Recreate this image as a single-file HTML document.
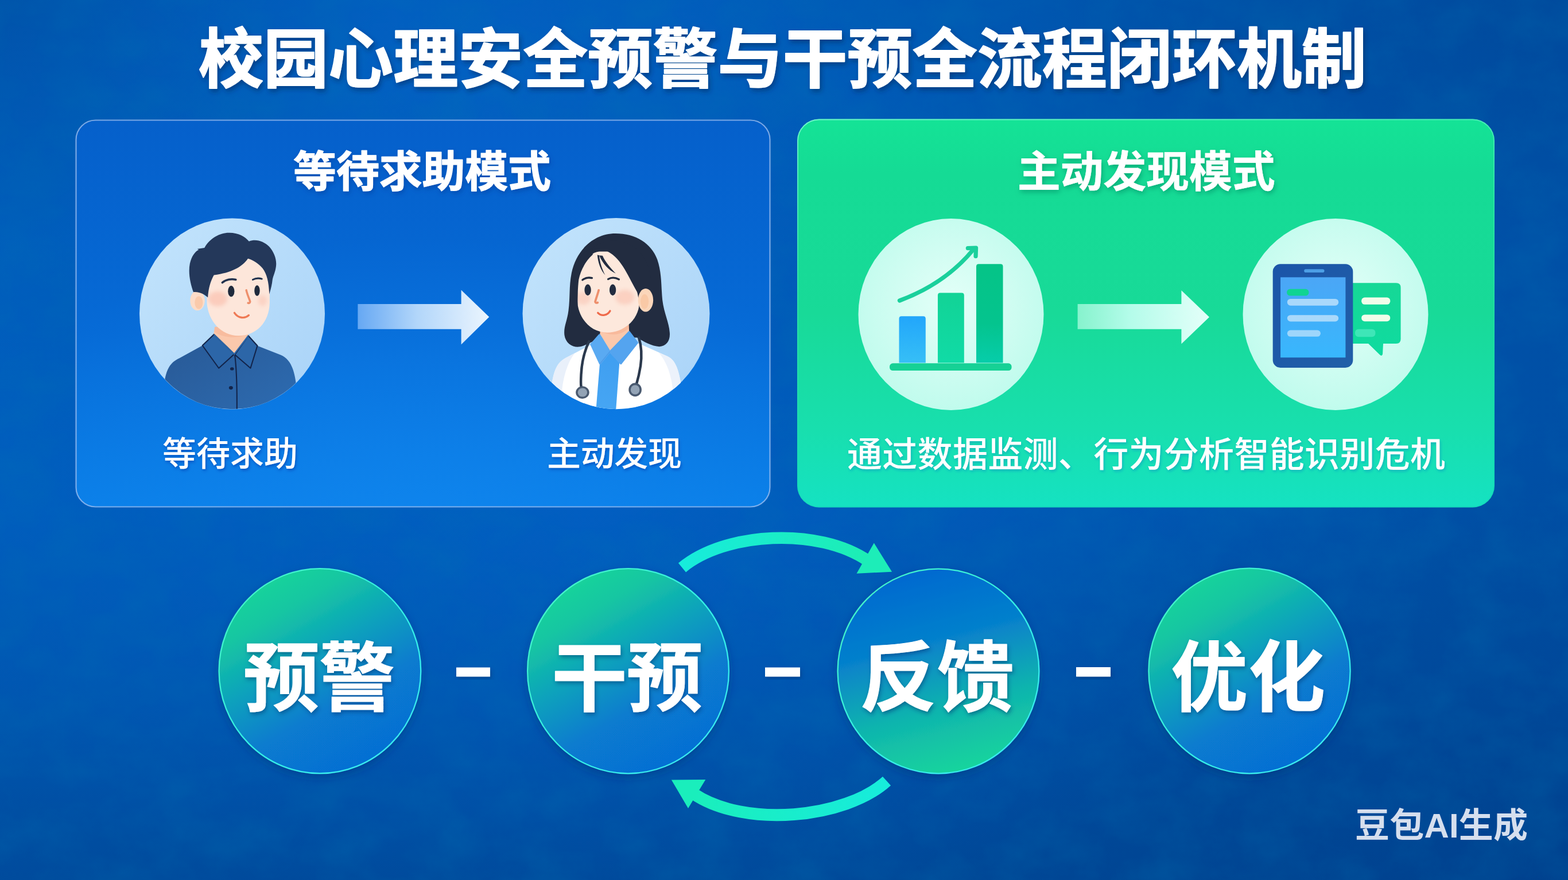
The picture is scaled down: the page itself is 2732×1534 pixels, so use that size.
<!DOCTYPE html>
<html lang="zh-CN">
<head>
<meta charset="utf-8">
<title>校园心理安全预警与干预全流程闭环机制</title>
<style>
html,body{margin:0;padding:0;background:#00499c;}
body{width:2732px;height:1534px;overflow:hidden;font-family:"Liberation Sans","Noto Sans CJK SC",sans-serif;}
#stage{position:relative;width:2732px;height:1534px;overflow:hidden;
background:
 radial-gradient(ellipse 1100px 520px at 30% 8%, rgba(6,102,205,.48) 0%, rgba(6,102,205,0) 100%),
 radial-gradient(ellipse 700px 420px at 0% 0%, rgba(0,68,145,.5) 0%, rgba(0,68,145,0) 100%),
 radial-gradient(ellipse 1200px 800px at 100% 100%, rgba(0,58,132,.3) 0%, rgba(0,58,132,0) 100%),
 radial-gradient(ellipse 900px 420px at 100% 0%, rgba(0,62,138,.35) 0%, rgba(0,62,138,0) 100%),
 radial-gradient(ellipse 1500px 700px at 38% 58%, rgba(4,100,208,.42) 0%, rgba(4,100,208,0) 100%),
 linear-gradient(180deg, rgba(0,58,128,0) 58%, rgba(0,58,128,.22) 80%, rgba(0,58,128,.5) 100%),
 linear-gradient(96deg, #005dbb 0%, #005ab6 40%, #0054ac 70%, #004fa5 100%);

}
#art{position:absolute;left:0;top:0;display:block}
#art text{font-family:"Liberation Sans","Noto Sans CJK SC",sans-serif;}
.tx{position:absolute;margin:0;padding:0;color:transparent;font-family:"Liberation Sans","Noto Sans CJK SC",sans-serif;font-weight:bold;white-space:nowrap;overflow:hidden;text-align:center;user-select:text}
</style>
</head>
<body>
<div id="stage">
<svg id="art" width="2732" height="1534" viewBox="0 0 2732 1534">
<defs>
<!-- text shadows -->
<filter id="shTitle" x="-2%" y="-20%" width="104%" height="150%"><feDropShadow dx="3" dy="5" stdDeviation="4" flood-color="#00255f" flood-opacity=".55"/></filter>
<filter id="shBlue" x="-5%" y="-25%" width="110%" height="160%"><feDropShadow dx="2" dy="4" stdDeviation="4" flood-color="#003a9a" flood-opacity=".55"/></filter>
<filter id="shBlueS" x="-5%" y="-25%" width="110%" height="160%"><feDropShadow dx="1.5" dy="3" stdDeviation="2.5" flood-color="#0040b0" flood-opacity=".65"/></filter>
<filter id="shGreen" x="-5%" y="-25%" width="110%" height="160%"><feDropShadow dx="2" dy="4" stdDeviation="5" flood-color="#058a62" flood-opacity=".6"/></filter>
<filter id="shGreenS" x="-3%" y="-25%" width="106%" height="160%"><feDropShadow dx="1.5" dy="3" stdDeviation="2.5" flood-color="#0a98c0" flood-opacity=".6"/></filter>
<filter id="shCirc" x="-10%" y="-20%" width="120%" height="150%"><feDropShadow dx="2" dy="4" stdDeviation="3.5" flood-color="#003070" flood-opacity=".5"/></filter>
<filter id="shSoft" x="-10%" y="-10%" width="120%" height="125%"><feDropShadow dx="0" dy="6" stdDeviation="8" flood-color="#002a6a" flood-opacity=".35"/></filter>
<filter id="glowG" x="-5%" y="-8%" width="110%" height="116%"><feGaussianBlur stdDeviation="9"/></filter>
<!-- paper-like grain -->
<filter id="grain" x="0" y="0" width="100%" height="100%"><feTurbulence type="fractalNoise" baseFrequency="0.011 0.014" numOctaves="6" seed="11"/><feColorMatrix type="matrix" values="0 0 0 0 0  0 0 0 0 .18  0 0 0 0 .45  0 0 0 1.1 -.36"/></filter>
<!-- panels -->
<linearGradient id="gLeft" x1="0" y1="0" x2="0" y2="1"><stop offset="0" stop-color="#0560cb"/><stop offset=".55" stop-color="#066ad6"/><stop offset="1" stop-color="#0a7fe8"/></linearGradient>
<radialGradient id="gLeftGlow" cx=".5" cy="1" r=".7"><stop offset="0" stop-color="#1288f0" stop-opacity=".55"/><stop offset="1" stop-color="#1288f0" stop-opacity="0"/></radialGradient>
<linearGradient id="gRight" x1="0" y1="0" x2="0" y2="1"><stop offset="0" stop-color="#14e396"/><stop offset=".14" stop-color="#15db95"/><stop offset=".5" stop-color="#18da98"/><stop offset=".8" stop-color="#18dfae"/><stop offset="1" stop-color="#15e2c2"/></linearGradient>
<!-- avatar discs -->
<linearGradient id="gDiscB" x1="0" y1="0" x2="1" y2="1"><stop offset="0" stop-color="#c3e4fc"/><stop offset="1" stop-color="#a9d3f8"/></linearGradient>
<radialGradient id="gDiscG" cx=".5" cy=".45" r=".6"><stop offset="0" stop-color="#e4fff8"/><stop offset="1" stop-color="#bdfbec"/></radialGradient>
<!-- straight arrows -->
<linearGradient id="gArrB" x1="0" y1="0" x2="1" y2="0"><stop offset="0" stop-color="#66a8f3"/><stop offset=".45" stop-color="#b2d6fa"/><stop offset="1" stop-color="#ebf5fe"/></linearGradient>
<linearGradient id="gArrG" x1="0" y1="0" x2="1" y2="0"><stop offset="0" stop-color="#8cf4d0" stop-opacity=".95"/><stop offset=".4" stop-color="#b4fcea"/><stop offset="1" stop-color="#e4fff9"/></linearGradient>
<!-- flow circles -->
<linearGradient id="gC1" x1=".22" y1="0" x2=".78" y2="1"><stop offset="0" stop-color="#1cd898"/><stop offset=".2" stop-color="#15c6a2"/><stop offset=".42" stop-color="#0da2bc"/><stop offset=".66" stop-color="#077bcf"/><stop offset="1" stop-color="#066cd4"/></linearGradient>
<linearGradient id="gC3" x1=".36" y1="0" x2=".62" y2="1"><stop offset="0" stop-color="#0468d0"/><stop offset=".35" stop-color="#0680cc"/><stop offset=".68" stop-color="#10b4ae"/><stop offset="1" stop-color="#16d69c"/></linearGradient>
<linearGradient id="gRing" x1="0" y1="0" x2="1" y2="1"><stop offset="0" stop-color="#48f4c0"/><stop offset=".5" stop-color="#34f0e4"/><stop offset="1" stop-color="#3ae8f4"/></linearGradient>
<linearGradient id="gCurve" x1="0" y1="0" x2="1" y2="0"><stop offset="0" stop-color="#17ecdc"/><stop offset="1" stop-color="#1dedb4"/></linearGradient>
<linearGradient id="gCurve2" x1="0" y1="0" x2="1" y2="0"><stop offset="0" stop-color="#1aeebc"/><stop offset="1" stop-color="#17ecdc"/></linearGradient>
<linearGradient id="gShirt" x1="0" y1="0" x2="1" y2="1"><stop offset="0" stop-color="#285894"/><stop offset="1" stop-color="#2d6cb2"/></linearGradient>
<filter id="blur10" x="-50%" y="-50%" width="200%" height="200%"><feGaussianBlur stdDeviation="14"/></filter>
<linearGradient id="gTie" x1="0" y1="0" x2="0" y2="1"><stop offset="0" stop-color="#3f9ef0"/><stop offset="1" stop-color="#46a6f4"/></linearGradient>
<linearGradient id="gBarB" x1="0" y1="0" x2="0" y2="1"><stop offset="0" stop-color="#22a6fb"/><stop offset="1" stop-color="#36bff6"/></linearGradient>
<linearGradient id="gBarG1" x1="0" y1="0" x2="0" y2="1"><stop offset="0" stop-color="#12d396"/><stop offset="1" stop-color="#10dba6"/></linearGradient>
<linearGradient id="gBarG2" x1="0" y1="0" x2="0" y2="1"><stop offset="0" stop-color="#05c487"/><stop offset=".6" stop-color="#04c48e"/><stop offset="1" stop-color="#06cdaa"/></linearGradient>
<linearGradient id="gTab" x1="0" y1="0" x2="1" y2="1"><stop offset="0" stop-color="#1b55a8"/><stop offset="1" stop-color="#215fa8"/></linearGradient>
<linearGradient id="gScreen" x1="0" y1="0" x2="0" y2="1"><stop offset="0" stop-color="#4ba6f6"/><stop offset="1" stop-color="#38b7fd"/></linearGradient>
<linearGradient id="gBubble" x1="0" y1="0" x2="0" y2="1"><stop offset="0" stop-color="#16d896"/><stop offset="1" stop-color="#0fdba0"/></linearGradient>
<linearGradient id="gRightEdge" x1="0" y1="0" x2=".25" y2="1"><stop offset="0" stop-color="#7df8d2" stop-opacity=".85"/><stop offset=".45" stop-color="#5ef0c8" stop-opacity=".3"/><stop offset="1" stop-color="#10c8a8" stop-opacity=".25"/></linearGradient>

</defs>
<rect width="2732" height="1534" filter="url(#grain)" opacity=".38"/>

<g id="panels">
<!-- left (blue glass) panel -->
<rect x="132.5" y="209.5" width="1209" height="674" rx="34" fill="url(#gLeft)"/>
<rect x="132.5" y="209.5" width="1209" height="674" rx="34" fill="url(#gLeftGlow)"/>
<rect x="132.5" y="209.5" width="1209" height="674" rx="34" fill="none" stroke="#b4ccf6" stroke-opacity=".68" stroke-width="2.2"/>
<!-- right (green) panel -->
<rect x="1389" y="207.5" width="1215" height="677" rx="38" fill="url(#gRight)"/>
<rect x="1390" y="208.5" width="1213" height="675" rx="37" fill="none" stroke="url(#gRightEdge)" stroke-width="2"/>
<!-- discs -->
<ellipse cx="404.5" cy="547" rx="161.5" ry="166.5" fill="url(#gDiscB)"/>
<ellipse cx="1073.5" cy="546.5" rx="163" ry="166.5" fill="url(#gDiscB)"/>
<ellipse cx="1657" cy="548" rx="161.5" ry="167" fill="url(#gDiscG)"/>
<ellipse cx="2327" cy="548" rx="161.5" ry="167" fill="url(#gDiscG)"/>
<!-- straight arrows -->
<path d="M623.4 530H803.6V505.6L852.3 552.6L803.6 600.6V573.7H623.4Z" fill="url(#gArrB)"/>
<path d="M1877.6 530H2058.4V506.2L2107 552.8L2058.4 599.6V573.7H1877.6Z" fill="url(#gArrG)"/>

</g>
<g id="avatars">
<!-- boy avatar: traced in 1446-unit space mapped onto page region (234,377)-(574,717) -->
<clipPath id="clipBoy"><ellipse cx="404.5" cy="547" rx="161.3" ry="166.3"/></clipPath>
<g clip-path="url(#clipBoy)">
<g transform="translate(234 377) scale(.23513)">
<!-- shirt -->
<path d="M222 1240C236 1140 262 1085 335 1052L505 958L590 876L740 1022L845 886L912 960L1085 1028C1160 1060 1186 1140 1200 1250L1200 1460L222 1460Z" fill="url(#gShirt)"/>
<!-- neck -->
<path d="M596 820L588 878L740 1024L846 888L838 820Z" fill="#fbc8ac"/>
<path d="M596 820L592 858C660 905 790 910 842 868L838 820Z" fill="#f6b294" opacity=".55"/>
<!-- collar -->
<path d="M590 876L505 958L626 1126L741 1022Z" fill="#2c66a8" stroke="#13244a" stroke-width="9" stroke-linejoin="round"/>
<path d="M845 886L912 960L861 1126L745 1026Z" fill="#2c66a8" stroke="#13244a" stroke-width="9" stroke-linejoin="round"/>
<path d="M590 876L741 1022L845 886" fill="none" stroke="#2c66a8" stroke-width="10"/>
<path d="M745 1030C760 1150 762 1300 760 1460" fill="none" stroke="#13244a" stroke-width="9"/>
<ellipse cx="724" cy="1131" rx="14" ry="11" fill="#13244a"/>
<ellipse cx="716" cy="1272" rx="15" ry="13" fill="#13244a"/>
<!-- ear -->
<ellipse cx="468" cy="625" rx="54" ry="74" fill="#fcdcc8"/>
<ellipse cx="478" cy="640" rx="30" ry="48" fill="#f9c6a4" opacity=".8"/>
<!-- face -->
<path d="M538 300L538 640C545 770 640 886 772 886C900 886 1000 790 1003 640L1003 300Z" fill="#fde6da"/>
<!-- blush -->
<clipPath id="clipBoyFace"><path d="M538 300L538 640C545 770 640 886 772 886C900 886 1000 790 1003 640L1003 300Z"/></clipPath>
<g clip-path="url(#clipBoyFace)">
<ellipse cx="618" cy="612" rx="70" ry="55" fill="#f8a994" opacity=".42" filter="url(#blur10)"/>
<ellipse cx="950" cy="625" rx="34" ry="40" fill="#f8a994" opacity=".3" filter="url(#blur10)"/>
</g>
<!-- hair -->
<path d="M438 562C415 500 398 420 412 350C425 295 450 262 478 248L466 242L520 234C560 160 640 120 705 122C770 122 820 150 850 186C900 165 960 185 1000 225C1040 270 1060 330 1048 385C1042 420 1030 440 1024 470C1020 510 1010 545 1000 578C998 500 985 430 950 385C920 350 880 325 842 314C800 375 720 420 590 436C565 480 548 540 545 602C525 585 490 558 438 562Z" fill="#24385a"/>
<!-- brows -->
<path d="M652 492C680 468 720 462 752 470" fill="none" stroke="#22334f" stroke-width="15" stroke-linecap="round"/>
<path d="M878 470C900 458 925 458 945 464" fill="none" stroke="#22334f" stroke-width="13" stroke-linecap="round"/>
<!-- eyes -->
<ellipse cx="718" cy="556" rx="24" ry="41" fill="#1f2a3c"/>
<ellipse cx="910" cy="551" rx="20" ry="40" fill="#1f2a3c"/>
<!-- nose -->
<path d="M830 548C838 585 852 610 858 632C858 642 850 646 843 643" fill="none" stroke="#ee8f6c" stroke-width="15" stroke-linecap="round" stroke-linejoin="round"/>
<!-- mouth -->
<path d="M742 716C770 758 820 760 848 734" fill="none" stroke="#ef7a55" stroke-width="14.5" stroke-linecap="round"/>
</g>
</g>

<!-- doctor avatar: traced in 1446-unit space mapped onto page region (903,377)-(1243,717) -->
<clipPath id="clipDoc"><ellipse cx="1074" cy="547" rx="162.6" ry="166.3"/></clipPath>
<g clip-path="url(#clipDoc)">
<g transform="translate(903 377) scale(.23513)">
<!-- back hair -->
<path d="M720 128C560 128 430 250 395 420C375 520 385 600 372 700C362 780 335 820 342 880C350 940 400 972 450 968C500 962 560 920 620 900L880 900C930 930 990 965 1045 966C1100 962 1128 920 1122 860C1118 790 1080 720 1068 620C1058 520 1065 420 1030 320C985 200 870 128 720 128Z" fill="#222c40"/>
<!-- coat -->
<path d="M248 1250C262 1150 285 1085 350 1050L540 952L600 880L680 1004L822 858L882 938L1110 1040C1170 1070 1190 1150 1206 1240L1206 1460L248 1460Z" fill="#fff"/>
<path d="M248 1250C262 1150 285 1085 350 1050L420 1012C360 1090 330 1200 320 1330L248 1330Z" fill="#dfeaf8" opacity=".7"/>
<path d="M1206 1240C1190 1150 1170 1070 1110 1040L1040 1010C1110 1090 1140 1200 1150 1330L1206 1330Z" fill="#dfeaf8" opacity=".6"/>
<!-- shirt front / tie -->
<path d="M606 1070L680 990L750 1080L722 1460L574 1460Z" fill="url(#gTie)"/>
<!-- neck -->
<path d="M612 800L604 884L680 1006L822 860L818 780Z" fill="#fbc8ac"/>
<path d="M612 800L608 850C670 890 760 885 820 830L818 780Z" fill="#f5ae90" opacity=".55"/>
<!-- collar -->
<path d="M602 880L540 950L606 1092L678 1004Z" fill="#5aaaf2" stroke="#5aaaf2" stroke-width="14" stroke-linejoin="round"/>
<path d="M822 858L882 938L760 1092L680 1004Z" fill="#54a4ef" stroke="#54a4ef" stroke-width="14" stroke-linejoin="round"/>
<path d="M678 1004L606 1092" stroke="#3d8be0" stroke-width="5" fill="none" opacity=".6"/>
<!-- face -->
<path d="M438 520C438 390 500 275 600 262L800 262L898 420L898 640C890 780 770 862 660 862C540 862 445 760 438 630Z" fill="#fde8dc"/>
<clipPath id="clipDocFace"><path d="M438 520C438 390 500 275 600 262L800 262L898 420L898 640C890 780 770 862 660 862C540 862 445 760 438 630Z"/></clipPath>
<g clip-path="url(#clipDocFace)">
<ellipse cx="482" cy="608" rx="55" ry="48" fill="#f8a994" opacity=".32" filter="url(#blur10)"/>
<ellipse cx="790" cy="600" rx="70" ry="55" fill="#f8a994" opacity=".36" filter="url(#blur10)"/>
</g>
<!-- front hair -->
<path d="M552 284C500 330 462 400 448 470C440 540 440 600 440 660C420 600 405 520 412 440C425 330 480 250 552 240Z" fill="#222c40"/>
<path d="M540 240C560 236 600 240 640 250C760 300 800 420 880 560C890 590 895 640 898 700C960 640 990 560 985 480C975 340 900 200 720 180C640 180 580 210 540 240Z" fill="#222c40"/>
<path d="M586 286C590 340 610 400 644 436C620 390 604 340 600 290Z" fill="#222c40"/>
<path d="M600 290C625 350 670 400 722 424C680 380 640 330 625 292Z" fill="#222c40"/>
<!-- ear -->
<ellipse cx="944" cy="622" rx="56" ry="86" fill="#fbd6ba"/>
<ellipse cx="936" cy="632" rx="30" ry="55" fill="#f8c39e" opacity=".7"/>
<!-- brows -->
<path d="M476 472C496 456 522 452 546 458" fill="none" stroke="#222c40" stroke-width="14" stroke-linecap="round"/>
<path d="M666 466C690 452 720 454 746 468" fill="none" stroke="#222c40" stroke-width="14" stroke-linecap="round"/>
<!-- eyes -->
<ellipse cx="515" cy="546" rx="24" ry="42" fill="#222c40"/>
<ellipse cx="700" cy="546" rx="24" ry="42" fill="#222c40"/>
<!-- nose -->
<path d="M596 548C588 580 576 610 570 634C572 642 580 644 588 640" fill="none" stroke="#ee8f6c" stroke-width="16" stroke-linecap="round" stroke-linejoin="round"/>
<!-- mouth -->
<path d="M590 716C618 744 660 736 680 702" fill="none" stroke="#ef6a4a" stroke-width="14.5" stroke-linecap="round"/>
<!-- stethoscope -->
<path d="M524 928C490 1000 470 1090 466 1170C464 1210 462 1240 466 1262" fill="none" stroke="#2b394d" stroke-width="19" stroke-linecap="round"/>
<path d="M894 900C912 960 916 1040 906 1110C898 1160 886 1210 876 1244" fill="none" stroke="#2b394d" stroke-width="19" stroke-linecap="round"/>
<ellipse cx="476" cy="1306" rx="50" ry="46" fill="#4a5a70"/>
<ellipse cx="476" cy="1306" rx="35" ry="32" fill="#93a3b5"/>
<ellipse cx="866" cy="1286" rx="48" ry="50" fill="#4a5a70"/>
<ellipse cx="866" cy="1286" rx="33" ry="35" fill="#93a3b5"/>
</g>
</g>

<!-- bar chart icon: traced in 1446-unit space mapped onto page region (1487,378)-(1827,718) -->
<g transform="translate(1487 378) scale(.23513)">
<path d="M338 1082V755Q338 737 356 737H517Q535 737 535 755V1082Z" fill="url(#gBarB)"/>
<path d="M625 1082V581Q625 563 643 563H802Q820 563 820 581V1082Z" fill="url(#gBarG1)"/>
<path d="M910 1082V368Q910 350 928 350H1090Q1108 350 1108 368V1082Z" fill="url(#gBarG2)"/>
<rect x="268" y="1086" width="904" height="54" rx="24" fill="#16d195"/>
<path d="M342 621C560 540 740 420 882 250" fill="none" stroke="#1ad09c" stroke-width="31" stroke-linecap="round"/>
<path d="M848 232L908 230L906 292" fill="none" stroke="#1ad09c" stroke-width="31" stroke-linecap="round" stroke-linejoin="round"/>
</g>

<!-- tablet + chat bubble icon: traced in 1446-unit space mapped onto page region (2157,378)-(2497,718) -->
<g transform="translate(2157 378) scale(.23513)">
<!-- chat bubble -->
<path d="M820 490H1172Q1206 490 1206 524V906Q1206 940 1172 940H1076L1072 1016Q1068 1038 1050 1022L966 940H820Z" fill="url(#gBubble)"/>
<rect x="915" y="598" width="213" height="52" rx="24" fill="#f1fdea"/>
<rect x="915" y="725" width="213" height="50" rx="24" fill="#f1fdea"/>
<rect x="868" y="832" width="150" height="58" rx="24" fill="#46e8bc" opacity=".85"/>
<!-- tablet -->
<rect x="258" y="350" width="594" height="768" rx="56" fill="url(#gTab)"/>
<rect x="490" y="388" width="150" height="25" rx="12" fill="#4c9fe6"/>
<rect x="315" y="448" width="482" height="595" fill="url(#gScreen)"/>
<rect x="362" y="535" width="163" height="50" rx="24" fill="#10d492"/>
<rect x="365" y="608" width="380" height="50" rx="24" fill="#bfe2fb" opacity=".82"/>
<rect x="365" y="728" width="380" height="48" rx="24" fill="#bfe2fb" opacity=".82"/>
<rect x="365" y="840" width="247" height="48" rx="24" fill="#bfe2fb" opacity=".75"/>
</g>

</g>
<g id="flow">
<g filter="url(#shSoft)">
<ellipse cx="557.4" cy="1169.7" rx="175.8" ry="178.5" fill="url(#gC1)" stroke="url(#gRing)" stroke-width="2.3"/>
<ellipse cx="1094.5" cy="1169.7" rx="175.4" ry="178.6" fill="url(#gC1)" stroke="url(#gRing)" stroke-width="2.3"/>
<ellipse cx="1635" cy="1170" rx="175.4" ry="178.3" fill="url(#gC3)" stroke="url(#gRing)" stroke-width="2.3"/>
<ellipse cx="2177" cy="1169.5" rx="175.6" ry="178.8" fill="url(#gC1)" stroke="url(#gRing)" stroke-width="2.3"/>
</g>
<!-- dashes -->
<g fill="#fff" filter="url(#shCirc)">
<rect x="795" y="1163.5" width="59" height="16"/>
<rect x="1333" y="1163.5" width="61" height="16"/>
<rect x="1875" y="1163" width="60" height="16.5"/>
</g>
<!-- curved arrows -->
<path d="M1188.5 989.5C1263 927.5 1426 918 1513 978" fill="none" stroke="url(#gCurve)" stroke-width="20.5"/>
<path d="M1554 996.7L1522.8 946.6L1492.5 999.7Z" fill="#1dedb8"/>
<path d="M1545 1361.5C1472.7 1427 1298 1443.5 1209 1384" fill="none" stroke="url(#gCurve2)" stroke-width="21"/>
<path d="M1169.9 1359.6L1229.3 1359.1L1199 1409Z" fill="#1aeebc"/>

</g>
<g id="text">
<text id="t_title" x="1363.5" y="143" font-size="113" font-weight="bold" text-anchor="middle" textLength="2035" lengthAdjust="spacing" fill="#fff" stroke="#fff" stroke-width="2" stroke-linejoin="round" filter="url(#shTitle)">校园心理安全预警与干预全流程闭环机制</text>
<text id="t_lp" x="735.6" y="326" font-size="75" font-weight="bold" text-anchor="middle" textLength="449" lengthAdjust="spacing" fill="#fff" stroke="#fff" stroke-width="1.2" stroke-linejoin="round" filter="url(#shBlue)">等待求助模式</text>
<text id="t_rp" x="1997.2" y="326" font-size="75" font-weight="bold" text-anchor="middle" textLength="449" lengthAdjust="spacing" fill="#fff" stroke="#fff" stroke-width="0.5" stroke-linejoin="round" filter="url(#shGreen)">主动发现模式</text>
<text id="t_l1" x="401" y="812" font-size="59" font-weight="500" text-anchor="middle" textLength="236" lengthAdjust="spacing" fill="#fff" filter="url(#shBlueS)">等待求助</text>
<text id="t_l2" x="1070.5" y="812" font-size="59" font-weight="500" text-anchor="middle" textLength="235" lengthAdjust="spacing" fill="#fff" filter="url(#shBlueS)">主动发现</text>
<text id="t_r1" x="1997" y="814" font-size="61" font-weight="500" text-anchor="middle" textLength="1042" lengthAdjust="spacing" fill="#fff" filter="url(#shGreenS)">通过数据监测、行为分析智能识别危机</text>
<text id="t_c1" x="556.2" y="1229" font-size="132" font-weight="bold" text-anchor="middle" textLength="264" lengthAdjust="spacing" fill="#fff" stroke="#fff" stroke-width="1" stroke-linejoin="round" filter="url(#shCirc)">预警</text>
<text id="t_c2" x="1092.5" y="1229" font-size="132" font-weight="bold" text-anchor="middle" textLength="263" lengthAdjust="spacing" fill="#fff" stroke="#fff" stroke-width="1" stroke-linejoin="round" filter="url(#shCirc)">干预</text>
<text id="t_c3" x="1632.5" y="1229" font-size="134" font-weight="bold" text-anchor="middle" textLength="269" lengthAdjust="spacing" fill="#fff" stroke="#fff" stroke-width="1" stroke-linejoin="round" filter="url(#shCirc)">反馈</text>
<text id="t_c4" x="2174.5" y="1229" font-size="134" font-weight="bold" text-anchor="middle" textLength="269" lengthAdjust="spacing" fill="#fff" stroke="#fff" stroke-width="1" stroke-linejoin="round" filter="url(#shCirc)">优化</text>
</g>
<!-- watermark -->
<text x="2511.5" y="1460" font-size="60" font-weight="bold" text-anchor="middle" textLength="301" lengthAdjust="spacing" fill="#d6dfee">豆包AI生成</text>

</svg>
<h1 class="tx" style="left:346px;top:34px;width:2035px;height:120px;font-size:120px;line-height:120px">校园心理安全预警与干预全流程闭环机制</h1>
<h2 class="tx" style="left:511.3px;top:252px;width:448.7px;height:82px;font-size:82px;line-height:82px">等待求助模式</h2>
<h2 class="tx" style="left:1772.5px;top:253px;width:449.5px;height:81px;font-size:81px;line-height:81px">主动发现模式</h2>
<p class="tx" style="left:283px;top:753px;width:236px;height:65px;font-size:65px;line-height:65px">等待求助</p>
<p class="tx" style="left:953px;top:753px;width:235px;height:65px;font-size:65px;line-height:65px">主动发现</p>
<p class="tx" style="left:1476px;top:753px;width:1042px;height:68px;font-size:68px;line-height:68px">通过数据监测、行为分析智能识别危机</p>
<p class="tx" style="left:424px;top:1098px;width:264.5px;height:143px;font-size:143px;line-height:143px">预警</p>
<p class="tx" style="left:961px;top:1098px;width:263px;height:143px;font-size:143px;line-height:143px">干预</p>
<p class="tx" style="left:1498px;top:1098px;width:269px;height:143.5px;font-size:144px;line-height:143.5px">反馈</p>
<p class="tx" style="left:2040px;top:1099px;width:269px;height:142.5px;font-size:142px;line-height:142.5px">优化</p>
<p class="tx" style="left:2361px;top:1408px;width:301px;height:58px;font-size:56px;line-height:58px">豆包AI生成</p>
</div>
</body>
</html>
